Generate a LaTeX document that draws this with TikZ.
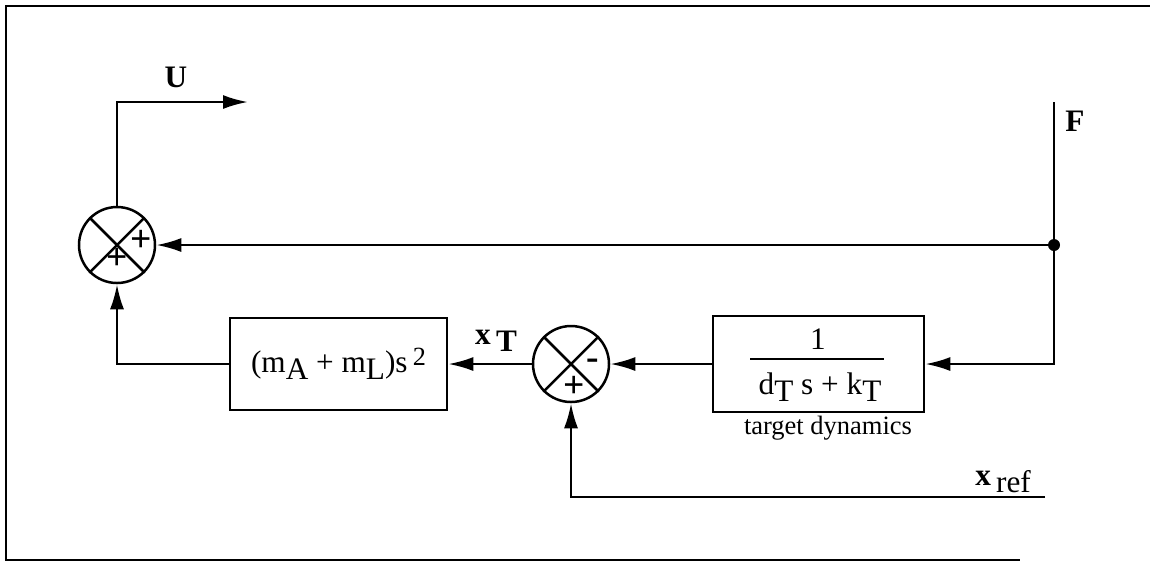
\documentclass[tikz,border=0pt]{standalone}
\usepackage{fontspec}
\setmainfont{Liberation Serif}
\usetikzlibrary{arrows.meta,positioning}
\newcommand{\dn}[1]{\raisebox{-0.5ex}{#1}}
\newcommand{\upr}[1]{\raisebox{0.45ex}{\fontsize{10.5}{12}\selectfont #1}}

\begin{document}
\begin{tikzpicture}[x=0.4pt,y=-0.4pt,line width=1pt,
  every node/.style={font=\fontsize{12.5}{15}\selectfont},
  block/.style={draw,rectangle,inner sep=0pt},
  summer/.style={draw,circle,minimum size=30.4pt,inner sep=0pt},
  sig/.style={font=\fontsize{15}{17}\selectfont\bfseries,inner sep=0pt},
  >={Latex[length=10pt,width=5.6pt]}]
\useasboundingbox (0,0) rectangle (1150,563);

% frame
\draw (1150,6) -- (6,6) -- (6,560) -- (1020,560);

% summing points
\node[summer] (sumU) at (117,245) {};
\node[summer] (sumT) at (571,364) {};
\foreach \s in {sumU,sumT}
  \draw (\s.45) -- (\s.225) (\s.135) -- (\s.315);
\node[sig] at ([shift={(24,-4)}]sumU.center) {+};
\node[sig] at ([shift={(0,14)}]sumU.center) {+};
\node[sig] at ([shift={(22,0)}]sumT.center) {-};
\node[sig] at ([shift={(3,23)}]sumT.center) {+};

% blocks
\node[block,minimum width=86.8pt,minimum height=36.8pt] (mass) at (338.5,364) {(m\dn{A} + m\dn{L})s\,\upr{2}};
\node[block,minimum width=84.4pt,minimum height=38.4pt] (dyn) at (818.5,364) {};
\node (num) at (818,339) {1};
\draw[line width=1.1pt] (750,359) -- (884,359);
\node (den) at (820,387) {d\dn{T} s + k\dn{T}};
\node[font=\fontsize{10.6}{12}\selectfont] (dynlbl) at (828,428) {target dynamics};

% signals
\coordinate (outU) at (248,102);
\coordinate (topF) at (1054,102);
\coordinate (cornerF) at (1054,364);
\coordinate (split) at (1054,245);
\coordinate (refin) at (1045,497);
\draw[->] (sumU.north) |- (outU);
\draw[->] (topF) -- (cornerF) -- (dyn.east);
\fill (split) circle (2.4pt);
\draw[->] (split) -- (sumU.east);
\draw[->] (dyn.west) -- (sumT.east);
\draw[->] (sumT.west) -- (mass.east);
\draw[->] (mass.west) -| (sumU.south);
\draw[->] (refin) -| (sumT.south);

% labels
\node (lblU) at (176,77) {\textbf{U}};
\node (lblF) at (1075,121) {\textbf{F}};
\node (lblxT) at (496,341) {\textbf{x\,\dn{T}}};
\node (lblref) at (1003,482) {\textbf{x}\,\dn{ref}};
\end{tikzpicture}
\end{document}
